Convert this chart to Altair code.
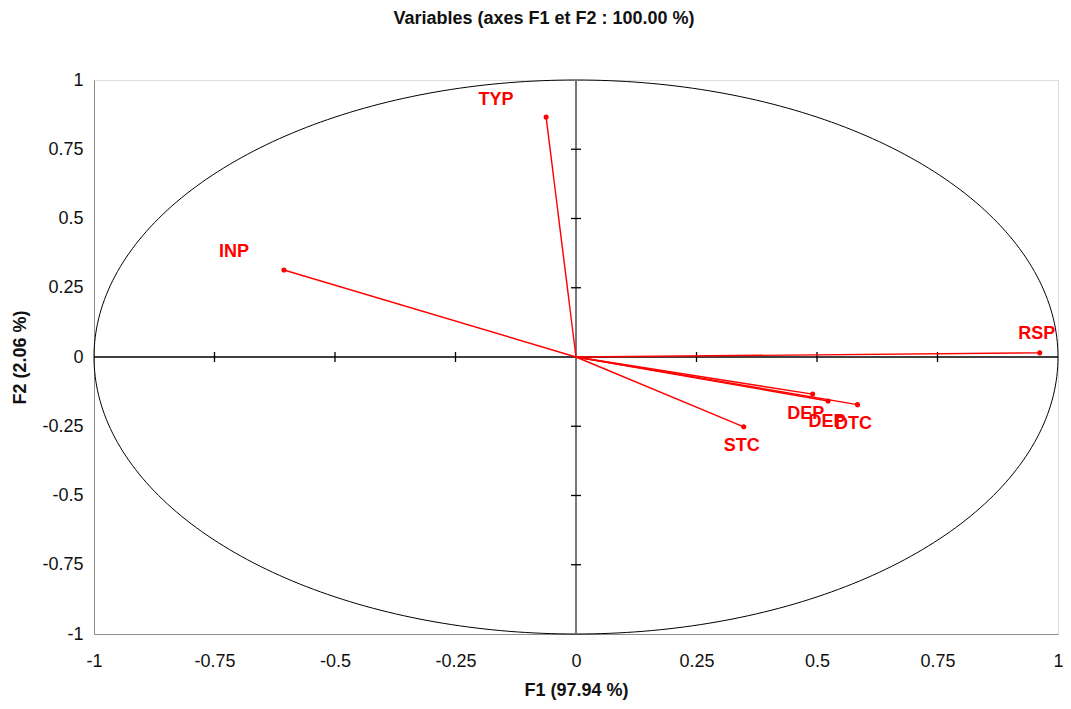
import altair as alt
import pandas as pd

# Variables (loadings on F1, F2)
names = ["TYP", "INP", "RSP", "DEP", "DEP", "DTC", "STC"]
f1 = [-0.062, -0.606, 0.962, 0.491, 0.523, 0.584, 0.348]
f2 = [0.866, 0.314, 0.015, -0.134, -0.159, -0.172, -0.252]
ids = list(range(len(names)))

tick_values = [-1, -0.75, -0.5, -0.25, 0, 0.25, 0.5, 0.75, 1]
inner_ticks = [-0.75, -0.5, -0.25, 0.25, 0.5, 0.75]

# label offsets in pixels (style, not data)
label_offsets = [(-50, -17), (-50, -18), (-3, -19), (-7, 20), (-1, 21), (-4, 19), (-2, 19)]

df = pd.DataFrame({"id": ids, "name": names, "F1": f1, "F2": f2})
df["origin"] = 0.0
ticks_df = pd.DataFrame({"v": inner_ticks})
ticks_df["zero"] = 0.0
axis_df = pd.DataFrame({"lo": [-1.0], "hi": [1.0], "zero": [0.0]})

RED = "#ff0000"
FONT = "Liberation Sans"
GRAY = "#8c8c8c"

xscale = alt.Scale(domain=[-1, 1], nice=False, zero=False)
yscale = alt.Scale(domain=[-1, 1], nice=False, zero=False)

xaxis = alt.Axis(values=tick_values, labelExpr="'' + datum.value", grid=False, ticks=False,
                 domainColor=GRAY, labelFont=FONT, labelFontSize=18, labelColor="#111111",
                 labelPadding=18, title="F1 (97.94 %)", titleFont=FONT, titleFontSize=18,
                 titleFontWeight="bold", titleColor="#111111", titlePadding=11, labelFlush=False)
yaxis = alt.Axis(values=tick_values, labelExpr="'' + datum.value", grid=False, ticks=False,
                 domainColor=GRAY, labelFont=FONT, labelFontSize=18, labelColor="#111111",
                 labelPadding=11, title="F2 (2.06 %)", titleFont=FONT, titleFontSize=18,
                 titleFontWeight="bold", titleColor="#111111", titlePadding=12, labelFlush=False)

base_axes = alt.Chart(df).mark_point(opacity=0).encode(
    x=alt.X("F1:Q", scale=xscale, axis=xaxis),
    y=alt.Y("F2:Q", scale=yscale, axis=yaxis),
)

# correlation circle (unit circle)
circle = alt.Chart(alt.sequence(0, 361, 1, as_="deg")).transform_calculate(
    cx="cos(datum.deg * PI / 180)", cy="sin(datum.deg * PI / 180)"
).mark_line(color="black", strokeWidth=1).encode(
    x=alt.X("cx:Q", scale=xscale), y=alt.Y("cy:Q", scale=yscale), order="deg:Q"
)

hzero = alt.Chart(axis_df).mark_rule(color="black", strokeWidth=1.3).encode(
    x=alt.X("lo:Q", scale=xscale), x2="hi:Q", y=alt.Y("zero:Q", scale=yscale)
)
vzero = alt.Chart(axis_df).mark_rule(color="#777777", strokeWidth=2).encode(
    y=alt.Y("lo:Q", scale=yscale), y2="hi:Q", x=alt.X("zero:Q", scale=xscale)
)

hticks = alt.Chart(ticks_df).mark_rule(color="black", strokeWidth=1.3, yOffset=-5, y2Offset=5).encode(
    x=alt.X("v:Q", scale=xscale), y=alt.Y("zero:Q", scale=yscale), y2="zero:Q"
)
vticks = alt.Chart(ticks_df).mark_rule(color="black", strokeWidth=1.3, xOffset=-5, x2Offset=5).encode(
    y=alt.Y("v:Q", scale=yscale), x=alt.X("zero:Q", scale=xscale), x2="zero:Q"
)

vectors = alt.Chart(df).mark_rule(color=RED, strokeWidth=1.4).encode(
    x=alt.X("origin:Q", scale=xscale), y=alt.Y("origin:Q", scale=yscale),
    x2="F1:Q", y2="F2:Q"
)

points = alt.Chart(df).mark_circle(color=RED, size=26, opacity=1).encode(
    x=alt.X("F1:Q", scale=xscale), y=alt.Y("F2:Q", scale=yscale)
)

labels = []
for i, (dx, dy) in enumerate(label_offsets):
    labels.append(
        alt.Chart(df).transform_filter(alt.datum.id == i).mark_text(
            color=RED, font=FONT, fontSize=18, fontWeight="bold", dx=dx, dy=dy,
            align="center", baseline="middle"
        ).encode(x=alt.X("F1:Q", scale=xscale), y=alt.Y("F2:Q", scale=yscale), text="name:N")
    )

chart = alt.layer(base_axes, circle, hzero, vzero, hticks, vticks, vectors, points, *labels).properties(
    width=964, height=554,
    title=alt.TitleParams("Variables (axes F1 et F2 : 100.00 %)", font=FONT, fontSize=18,
                          fontWeight="bold", color="#111111", offset=43, anchor="middle", dx=-32),
    autosize=alt.AutoSizeParams(type="none"),
    padding={"left": 86, "top": 72, "right": 5, "bottom": 67},
).configure_view(stroke=GRAY, strokeWidth=1).configure(background="white")

chart.save("out.html", embed_options={"renderer": "svg", "actions": False})
